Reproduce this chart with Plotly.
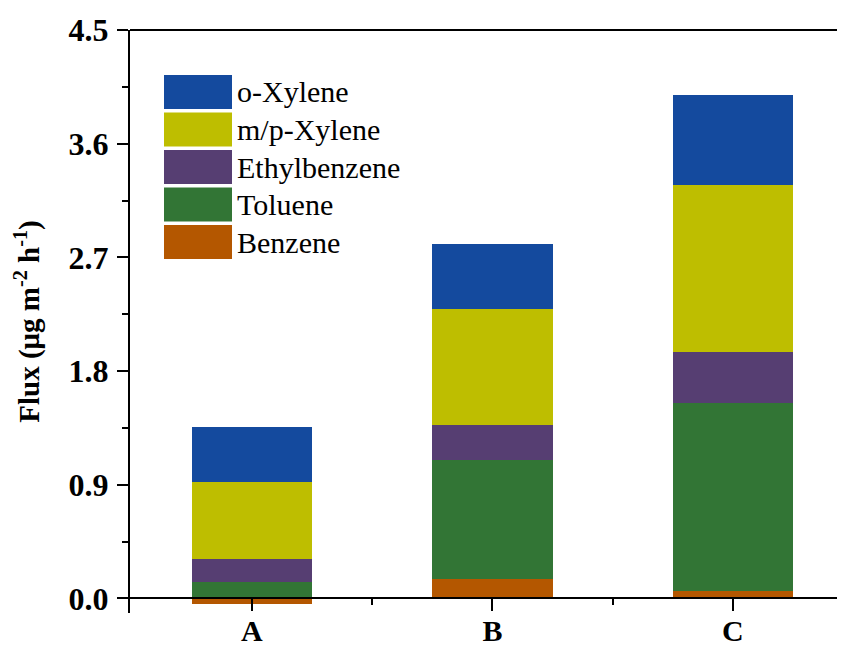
import plotly.graph_objects as go

# ---- data ----
categories = ["A", "B", "C"]
series_names = ["Benzene", "Toluene", "Ethylbenzene", "m/p-Xylene", "o-Xylene"]
benzene = [-0.04, 0.158, 0.063]
toluene = [0.134, 0.936, 1.485]
ethylbenzene = [0.177, 0.277, 0.404]
mp_xylene = [0.609, 0.923, 1.318]
o_xylene = [0.438, 0.512, 0.712]
series_values = [benzene, toluene, ethylbenzene, mp_xylene, o_xylene]
colors = ["rgb(180,87,0)", "rgb(50,117,53)", "rgb(86,62,114)", "rgb(190,190,0)", "rgb(20,74,158)"]
y_ticks = [0.0, 0.9, 1.8, 2.7, 3.6, 4.5]

# ---- layout constants (pixels, page coordinates; page body has 8px offset) ----
OFF = 8
W, H = 845, 650
L, R, T, B = 130 - OFF, OFF, 30 - OFF, 650 - (613 - OFF)
Y_MIN, Y_MAX = -0.115, 4.5
X_MIN, X_MAX = 0.493, 3.466
FONT = "Liberation Serif"

xs = [i + 1 for i in range(len(categories))]

fig = go.Figure()
for name, vals, col in zip(series_names, series_values, colors):
    fig.add_trace(go.Bar(
        x=xs, y=vals, name=name, width=0.5,
        marker=dict(color=col, line=dict(width=0)),
        showlegend=False,
    ))

pw, ph = W - L - R, H - T - B


def px_x(p):
    return (p - OFF - L) / pw


def px_y(p):
    return (H - B - (p - OFF)) / ph


shapes = []
annotations = []
# top border line
shapes.append(dict(type="line", xref="paper", yref="paper", x0=0, x1=1, y0=1, y1=1,
                   line=dict(color="black", width=2)))

# custom legend (top to bottom: reversed stacking order)
sw_l, sw_r, top0, pitch, sh = 164, 232, 75, 37.5, 34
for i, (name, col) in enumerate(zip(series_names[::-1], colors[::-1])):
    t = top0 + i * pitch
    shapes.append(dict(type="rect", xref="paper", yref="paper",
                       x0=px_x(sw_l), x1=px_x(sw_r), y0=px_y(t + sh), y1=px_y(t),
                       fillcolor=col, line=dict(width=0)))
    annotations.append(dict(xref="paper", yref="paper", x=px_x(sw_r + 3), y=px_y(t + sh / 2),
                            text=name, showarrow=False, xanchor="left", yanchor="middle",
                            font=dict(family=FONT, size=30, color="black")))

fig.update_layout(
    width=W, height=H,
    margin=dict(l=L, r=R, t=T, b=B),
    barmode="relative",
    bargap=0,
    plot_bgcolor="white", paper_bgcolor="white",
    shapes=shapes, annotations=annotations,
    showlegend=False,
    xaxis=dict(
        range=[X_MIN, X_MAX], automargin=False,
        tickvals=xs, ticktext=categories,
        anchor="free", position=(0 - Y_MIN) / (Y_MAX - Y_MIN),
        showline=True, linecolor="black", linewidth=2,
        ticks="outside", ticklen=12, tickwidth=2, tickcolor="black",
        ticklabelstandoff=-6,
        minor=dict(tickvals=[1.5, 2.5], ticks="outside", ticklen=6, tickwidth=2, tickcolor="black"),
        showgrid=False, zeroline=False,
        tickfont=dict(family=FONT, size=30, color="black", weight="bold"),
    ),
    yaxis=dict(
        range=[Y_MIN, Y_MAX], automargin=False,
        tickvals=y_ticks, tickformat=".1f",
        showline=True, linecolor="black", linewidth=2,
        ticks="outside", ticklen=11, tickwidth=2, tickcolor="black",
        ticklabelstandoff=2,
        minor=dict(dtick=0.45, tick0=0, ticks="outside", ticklen=6, tickwidth=2, tickcolor="black"),
        showgrid=False, zeroline=False,
        tickfont=dict(family=FONT, size=32, color="black", weight="bold"),
        title=dict(text="Flux (μg m<sup>-2</sup> h<sup>-1</sup>)", standoff=20,
                   font=dict(family=FONT, size=29, color="black", weight="bold")),
    ),
)

fig.write_html("out.html")
